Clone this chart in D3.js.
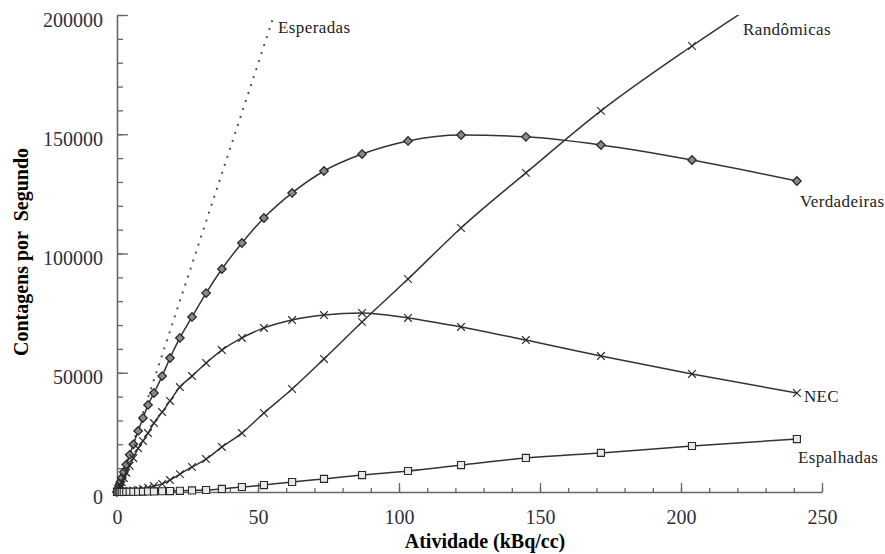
<!DOCTYPE html>
<html>
<head>
<meta charset="utf-8">
<script src="https://cdn.jsdelivr.net/npm/d3@7"></script>
<style>
  body { margin: 0; background: #fff; }
  text { font-family: "Liberation Serif", "Times New Roman", serif; }
</style>
</head>
<body>
<div id="chart"></div>
<script>
// atividade (kBq/cc) dos pontos medidos
const activity = [0, 0.5, 0.8, 1.2, 1.7, 2.4, 3.3, 4.5, 5.8, 7.5, 9.2, 11.0, 13.1, 16.0, 18.8, 22.3, 26.6,
  31.6, 37.2, 44.3, 52.1, 62.1, 73.4, 86.9, 103.2, 122.0, 145.0, 171.6, 203.9, 241.1];

// contagens por segundo
const trues = [0, 1760, 2800, 4200, 5950, 8400, 11500, 15600, 20000, 25600, 31000, 36500, 41500, 48600, 56200,
  64600, 73400, 83400, 93500, 104400, 114900, 125400, 134600, 141700, 147200, 149700, 148900, 145500, 139200, 130400];
const nec = [0, 1250, 2000, 2950, 4200, 5900, 8100, 11000, 14200, 18300, 21400, 24700, 28900, 33500, 38200,
  44000, 48600, 54100, 59500, 64600, 68800, 72100, 74200, 75100, 73000, 69200, 63700, 57000, 49500, 41500];
const randoms = [0, 6, 15, 30, 60, 120, 220, 380, 600, 900, 1300, 1800, 2500, 3400, 5000,
  7500, 10500, 13800, 18900, 24700, 33100, 43200, 55800, 71300, 89300, 110700, 133800, 159800, 187000, 216000];
const scatter = [0, 8, 13, 20, 28, 40, 55, 75, 100, 130, 160, 200, 250, 320, 400,
  500, 650, 840, 1300, 2100, 2900, 4200, 5500, 7100, 8800, 11300, 14300, 16400, 19300, 22200];

// linha esperada (sem tempo morto)
const expectedX = [0, 55.7];
const expectedY = [0, 200000];

const xTicks = [0, 50, 100, 150, 200, 250];
const yTicks = [0, 50000, 100000, 150000, 200000];

const width = 885, height = 554;
const mLeft = 117, mRight = 822, mTop = 15, mBottom = 492;

const svg = d3.select("#chart").append("svg")
  .attr("width", width)
  .attr("height", height);

const x = d3.scaleLinear().domain([0, 250]).range([mLeft, mRight]);
const y = d3.scaleLinear().domain([0, 200000]).range([mBottom, mTop]);

svg.append("clipPath").attr("id", "plot")
  .append("rect")
  .attr("x", mLeft - 5).attr("y", mTop)
  .attr("width", mRight - mLeft + 10).attr("height", mBottom - mTop + 5);

const axisColor = "#666";

// eixos: ticks menores
svg.append("g")
  .attr("transform", `translate(0,${mBottom})`)
  .call(d3.axisBottom(x).tickValues(d3.range(0, 251, 10)).tickSize(-4).tickFormat(""))
  .call(g => g.select(".domain").remove());
svg.append("g")
  .attr("transform", `translate(${mLeft},0)`)
  .call(d3.axisLeft(y).tickValues(d3.range(0, 200001, 10000)).tickSize(-6).tickFormat(""))
  .call(g => g.select(".domain").remove());

// eixos principais
const xAxis = svg.append("g")
  .attr("transform", `translate(0,${mBottom})`)
  .call(d3.axisBottom(x).tickValues(xTicks).tickSizeInner(-9).tickSizeOuter(0).tickPadding(18));
const yAxis = svg.append("g")
  .attr("transform", `translate(${mLeft},0)`)
  .call(d3.axisLeft(y).tickValues(yTicks).tickSizeInner(-11).tickSizeOuter(0).tickPadding(14).tickFormat(d3.format("d")));

svg.selectAll(".tick line").attr("stroke", axisColor).attr("stroke-width", 1.3);
svg.selectAll(".domain").attr("stroke", axisColor).attr("stroke-width", 1.6);
svg.selectAll(".tick text")
  .attr("fill", "#2f2f3a")
  .style("font-family", "Liberation Serif")
  .style("font-size", "20px");
yAxis.selectAll(".tick text").attr("dy", "0.55em");

// títulos
svg.append("text")
  .attr("x", 485).attr("y", 548)
  .attr("text-anchor", "middle")
  .style("font-size", "20px").style("font-weight", "bold")
  .text("Atividade (kBq/cc)");

svg.append("text")
  .attr("transform", `translate(28,252) rotate(-90)`)
  .attr("text-anchor", "middle")
  .style("font-size", "20px").style("font-weight", "bold")
  .style("white-space", "pre")
  .text("Contagens por  Segundo");

const plot = svg.append("g").attr("clip-path", "url(#plot)");

// esperadas (pontilhada)
const expLine = d3.line().x(i => x(expectedX[i])).y(i => y(expectedY[i]));
plot.append("path")
  .attr("d", expLine(d3.range(expectedX.length)))
  .attr("fill", "none")
  .attr("stroke", "#555")
  .attr("stroke-width", 2.2)
  .attr("stroke-linecap", "round")
  .attr("stroke-dasharray", "0.1 8.3");

// losango quadrado (quadrado girado)
const diamond = {
  draw(ctx, size) {
    const r = Math.sqrt(size / 2);
    ctx.moveTo(0, -r); ctx.lineTo(r, 0); ctx.lineTo(0, r); ctx.lineTo(-r, 0); ctx.closePath();
  }
};

const series = [
  { name: "Verdadeiras", values: trues, symbol: diamond, size: 36, fill: "#8a8a8a", sw: 1.3 },
  { name: "NEC", values: nec, symbol: d3.symbolTimes, size: 40, fill: "none", sw: 1.2 },
  { name: "Randômicas", values: randoms, symbol: d3.symbolTimes, size: 40, fill: "none", sw: 1.1 },
  { name: "Espalhadas", values: scatter, symbol: d3.symbolSquare, size: 50, fill: "#e8e8e8", sw: 1.1 }
];

const line = d3.line().curve(d3.curveMonotoneX);

for (const s of series) {
  const pts = activity.map((a, i) => [x(a), y(s.values[i])]);
  plot.append("path")
    .attr("d", line(pts))
    .attr("fill", "none")
    .attr("stroke", "#333")
    .attr("stroke-width", 1.5);
  plot.append("g").selectAll("path")
    .data(pts)
    .join("path")
    .attr("transform", d => `translate(${d[0]},${d[1]})`)
    .attr("d", d3.symbol(s.symbol, s.size))
    .attr("fill", s.fill)
    .attr("stroke", "#2a2a2a")
    .attr("stroke-width", s.sw);
}

// rótulos das curvas
const n = activity.length - 1;
const labels = [
  { text: "Esperadas", x: x(expectedX[1]) + 4, y: y(expectedY[1]) + 18 },
  { text: "Randômicas", x: 743, y: mTop + 20 },
  { text: "Verdadeiras", x: x(activity[n]) + 3, y: y(trues[n]) + 26 },
  { text: "NEC", x: x(activity[n]) + 7, y: y(nec[n]) + 9 },
  { text: "Espalhadas", x: x(activity[n]) + 1, y: y(scatter[n]) + 24 }
];
svg.append("g").selectAll("text")
  .data(labels)
  .join("text")
  .attr("x", d => d.x)
  .attr("y", d => d.y)
  .attr("fill", "#222")
  .style("font-size", "17px")
  .style("letter-spacing", "0.4px")
  .text(d => d.text);
</script>
</body>
</html>
